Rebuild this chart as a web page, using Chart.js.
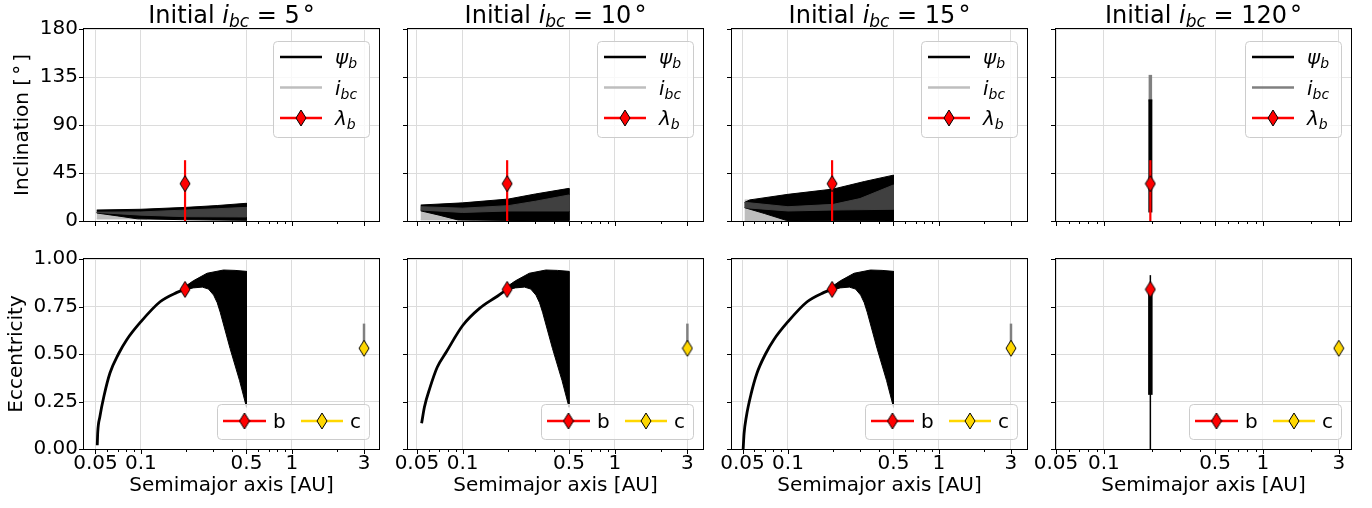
<!DOCTYPE html>
<html>
<head>
<meta charset="utf-8">
<title>Obliquity and eccentricity of planet b</title>
<script src="https://cdn.jsdelivr.net/npm/chart.js@4/dist/chart.umd.min.js"></script>
<style>
  body { margin: 0; background: #fff; }
  #figure { position: relative; width: 1372px; height: 508px; }
  #figure canvas { position: absolute; left: 0; top: 0; }
</style>
</head>
<body>
<div id="figure"></div>
<script>
// ---- data -------------------------------------------------------------
const COLUMN_IBC = [5, 10, 15, 120];
const COLUMN_XMIN = [0.042, 0.0437, 0.0426, 0.05];
const COLUMN_XMAX = [3.77, 3.8, 3.83, 3.58];

const X_MAJOR_TICKS = [0.05, 0.1, 0.5, 1, 3];
const X_MINOR_TICKS = [0.06, 0.07, 0.08, 0.09, 0.2, 0.3, 0.4, 0.6, 0.7, 0.8, 0.9, 2];
const INC_TICKS = [0, 45, 90, 135, 180];
const ECC_TICKS = [0, 0.25, 0.5, 0.75, 1];

// observed planets, [a (AU), value]
const PLANET_B_INC = [0.196, 35];
const PLANET_B_INC_BAR = [0, 57];
const PLANET_B_ECC = [0.196, 0.84];
const PLANET_C_ECC = [3, 0.53];
const PLANET_C_ECC_SPREAD = [0.53, 0.66];

// psi_b envelope (black), for i_bc = 5, 10, 15 deg
const PSI_UPPER = [
  [[0.051, 10.3], [0.1, 11], [0.2, 12.8], [0.32, 14.5], [0.5, 16.6]],
  [[0.053, 15], [0.1, 17], [0.2, 20.6], [0.3, 25.3], [0.5, 30.6]],
  [[0.0517, 17.5], [0.056, 19.8], [0.1, 25], [0.2, 30], [0.32, 37], [0.5, 43]]
];
const PSI_LOWER = [
  [[0.051, 7.5], [0.07, 4.8], [0.095, 2], [0.2, 1.2], [0.5, 0.6]],
  [[0.053, 9.5], [0.07, 5.5], [0.093, 1], [0.2, 0.5], [0.5, 0.3]],
  [[0.0517, 12.5], [0.07, 7], [0.098, 0.5], [0.2, 0.3], [0.5, 0]]
];
// overlap of psi_b and i_bc (dark grey)
const MID_UPPER = [
  [[0.051, 8.3], [0.1, 8.5], [0.2, 10.3], [0.32, 11.5], [0.5, 12.8]],
  [[0.053, 13.4], [0.1, 12], [0.2, 14.4], [0.3, 18.5], [0.5, 24.4]],
  [[0.0517, 17.5], [0.1, 13.4], [0.2, 15.6], [0.3, 21], [0.5, 33.8]]
];
const MID_LOWER = [
  [[0.051, 8], [0.1, 5.5], [0.2, 4], [0.5, 3.8]],
  [[0.053, 10.3], [0.1, 8], [0.2, 9.4], [0.5, 9.4]],
  [[0.0517, 12.5], [0.1, 9.4], [0.2, 10.3], [0.5, 11]]
];
// i_bc envelope (light grey)
const IBC_UPPER = [
  [[0.051, 8], [0.11, 4]],
  [[0.053, 12], [0.12, 5]],
  [[0.0517, 19.7], [0.057, 19.7], [0.11, 8]]
];
const IBC_LOWER = [
  [[0.051, 1.9], [0.11, 1.9]],
  [[0.053, 1], [0.12, 1]],
  [[0.0517, 0], [0.11, 0]]
];

// e_b along the high-eccentricity track
const ECC_TRACK = [
  [[0.0514, 0.02], [0.0518, 0.09], [0.0535, 0.17], [0.057, 0.28], [0.0624, 0.40], [0.071, 0.5],
   [0.0804, 0.574], [0.1, 0.67], [0.134, 0.775], [0.172, 0.823], [0.196, 0.84], [0.22, 0.855]],
  [[0.0537, 0.135], [0.056, 0.22], [0.0608, 0.32], [0.068, 0.43], [0.0782, 0.512], [0.1, 0.65],
   [0.129, 0.74], [0.166, 0.80], [0.196, 0.84], [0.22, 0.855]],
  [[0.0505, 0.0], [0.0512, 0.08], [0.053, 0.17], [0.057, 0.29], [0.0624, 0.40], [0.071, 0.5],
   [0.0804, 0.574], [0.1, 0.67], [0.134, 0.775], [0.172, 0.823], [0.196, 0.84], [0.22, 0.855]]
];
const ECC_BAND_UPPER = [[0.2, 0.86], [0.222, 0.885], [0.274, 0.925], [0.352, 0.942], [0.42, 0.94], [0.5, 0.935]];
const ECC_BAND_LOWER = [[0.2, 0.84], [0.222, 0.848], [0.255, 0.852], [0.28, 0.842], [0.303, 0.81],
  [0.32, 0.77], [0.335, 0.72], [0.389, 0.53], [0.45, 0.36], [0.5, 0.22]];

// i_bc = 120 deg: planet b stays at its current orbit
const PSI_SPAN_120 = [8, 114];
const IBC_SPAN_120 = [112, 137];
const ECC_SPAN_120 = [0, 0.915];
const ECC_CORE_120 = [0.285, 0.83];

// ---- layout -----------------------------------------------------------
const FONT = '"DejaVu Sans", sans-serif';
const PANEL_LEFT = [84, 408, 732, 1056];
const PANEL_WIDTH = 295;
const ROW_TOP = [29, 259];
const ROW_HEIGHT = [192, 190];
const Y_AXIS_W = 60;
const X_AXIS_H = 40;
const GRID = '#dcdcdc';

Chart.defaults.font.family = FONT;
Chart.defaults.font.size = 20;
Chart.defaults.color = '#000';

function makeDiamond(fill) {
  const c = document.createElement('canvas');
  c.width = 12;
  c.height = 18;
  const g = c.getContext('2d');
  g.beginPath();
  g.moveTo(6, 1);
  g.lineTo(11, 9);
  g.lineTo(6, 17);
  g.lineTo(1, 9);
  g.closePath();
  g.fillStyle = fill;
  g.fill();
  g.strokeStyle = '#000';
  g.lineWidth = 1;
  g.stroke();
  return c;
}
const RED_DIAMOND = makeDiamond('#ff0000');
const GOLD_DIAMOND = makeDiamond('#ffd700');

function pts(pairs) {
  return pairs.map(function (p) { return { x: p[0], y: p[1] }; });
}
function band(upper, lower) {
  return pts(upper.concat(lower.slice().reverse()));
}
function vline(x, span) {
  return [{ x: x, y: span[0] }, { x: x, y: span[1] }];
}

function shape(data, color, order) {
  return { data: data, fill: 'shape', backgroundColor: color, borderColor: color, borderWidth: 1, pointRadius: 0, order: order };
}
function stroke(data, color, width, order) {
  return { data: data, fill: false, borderColor: color, borderWidth: width, pointRadius: 0, order: order };
}
function marker(pair, img) {
  return { data: pts([pair]), showLine: false, pointStyle: img, pointRadius: 8, order: 0 };
}

function inclinationDatasets(col) {
  if (col === 3) {
    return [
      stroke(vline(PLANET_B_INC[0], IBC_SPAN_120), '#808080', 3.5, 6),
      stroke(vline(PLANET_B_INC[0], PSI_SPAN_120), '#000', 4, 5),
      stroke(vline(PLANET_B_INC[0], PLANET_B_INC_BAR), '#ff0000', 2.2, 1),
      marker(PLANET_B_INC, RED_DIAMOND)
    ];
  }
  return [
    shape(band(IBC_UPPER[col], IBC_LOWER[col]), '#bebebe', 6),
    shape(band(PSI_UPPER[col], PSI_LOWER[col]), '#000', 5),
    shape(band(MID_UPPER[col], MID_LOWER[col]), '#404040', 4),
    stroke(vline(PLANET_B_INC[0], PLANET_B_INC_BAR), '#ff0000', 2.2, 1),
    marker(PLANET_B_INC, RED_DIAMOND)
  ];
}

function eccentricityDatasets(col) {
  if (col === 3) {
    return [
      stroke(vline(PLANET_B_ECC[0], ECC_SPAN_120), '#000', 1.5, 5),
      stroke(vline(PLANET_B_ECC[0], ECC_CORE_120), '#000', 4.5, 4),
      marker(PLANET_B_ECC, RED_DIAMOND),
      marker(PLANET_C_ECC, GOLD_DIAMOND)
    ];
  }
  const track = stroke(pts(ECC_TRACK[col]), '#000', 2.8, 5);
  track.cubicInterpolationMode = 'monotone';
  return [
    track,
    shape(band(ECC_BAND_UPPER, ECC_BAND_LOWER), '#000', 4),
    stroke(vline(PLANET_C_ECC[0], PLANET_C_ECC_SPREAD), '#808080', 2.5, 3),
    marker(PLANET_B_ECC, RED_DIAMOND),
    marker(PLANET_C_ECC, GOLD_DIAMOND)
  ];
}

// mixed roman / italic / subscript text, drawn piece by piece
function drawRich(ctx, parts, x, y, align) {
  let total = 0;
  parts.forEach(function (p) {
    ctx.font = (p.italic ? 'italic ' : '') + p.size + 'px ' + FONT;
    p.w = ctx.measureText(p.text).width + (p.dx || 0);
    total += p.w;
  });
  let cx = align === 'center' ? x - total / 2 : x;
  ctx.textAlign = 'left';
  ctx.textBaseline = 'alphabetic';
  ctx.fillStyle = '#000';
  parts.forEach(function (p) {
    ctx.font = (p.italic ? 'italic ' : '') + p.size + 'px ' + FONT;
    ctx.fillText(p.text, cx + (p.dx || 0), y + (p.dy || 0));
    cx += p.w;
  });
}

function symbol(main, sub) {
  return [
    { text: main, size: 20, italic: true },
    { text: sub, size: 14, italic: true, dy: 4 }
  ];
}

function legendBox(ctx, x, y, w, h) {
  ctx.save();
  ctx.beginPath();
  ctx.roundRect(x + 0.5, y + 0.5, w, h, 4);
  ctx.fillStyle = 'rgba(255,255,255,0.8)';
  ctx.fill();
  ctx.strokeStyle = '#cccccc';
  ctx.lineWidth = 1;
  ctx.stroke();
  ctx.restore();
}

function handle(ctx, x0, x1, y, color, img) {
  ctx.save();
  ctx.strokeStyle = color;
  ctx.lineWidth = 2.5;
  ctx.beginPath();
  ctx.moveTo(x0, y);
  ctx.lineTo(x1, y);
  ctx.stroke();
  if (img) {
    ctx.drawImage(img, (x0 + x1) / 2 - img.width / 2, y - img.height / 2);
  }
  ctx.restore();
}

function drawInclinationLegend(ctx, area, ibcColor) {
  const left = area.right - 106;
  const top = area.top + 12;
  legendBox(ctx, left, top, 96, 96);
  const rows = [
    { color: '#000', parts: symbol('ψ', 'b') },
    { color: ibcColor, parts: symbol('i', 'bc') },
    { color: '#ff0000', parts: symbol('λ', 'b'), img: RED_DIAMOND }
  ];
  rows.forEach(function (row, i) {
    const y = top + 16 + i * 30.5;
    handle(ctx, left + 7, left + 49, y, row.color, row.img);
    drawRich(ctx, row.parts, left + 62, y + 7, 'left');
  });
}

function drawEccentricityLegend(ctx, area) {
  const left = area.right - 162;
  const top = area.bottom - 45;
  legendBox(ctx, left, top, 152, 35);
  const y = top + 17;
  handle(ctx, left + 6, left + 49, y, '#ff0000', RED_DIAMOND);
  drawRich(ctx, [{ text: 'b', size: 20 }], left + 56, y + 7, 'left');
  handle(ctx, left + 84, left + 126, y, '#ffd700', GOLD_DIAMOND);
  drawRich(ctx, [{ text: 'c', size: 20 }], left + 133, y + 7, 'left');
}

const panelDecor = {
  id: 'panelDecor',
  afterDatasetsDraw: function (chart, args, opts) {
    const ctx = chart.ctx;
    const area = chart.chartArea;
    const xs = chart.scales.x;
    const ys = chart.scales.y;

    ctx.save();
    ctx.strokeStyle = '#000';
    ctx.lineWidth = 1;
    ctx.beginPath();
    X_MAJOR_TICKS.concat(X_MINOR_TICKS).forEach(function (v) {
      if (v < xs.min || v > xs.max) return;
      const px = Math.round(xs.getPixelForValue(v)) + 0.5;
      const len = X_MAJOR_TICKS.indexOf(v) >= 0 ? 5 : 3;
      ctx.moveTo(px, area.bottom);
      ctx.lineTo(px, area.bottom + len);
    });
    opts.yTicks.forEach(function (v) {
      const py = Math.round(ys.getPixelForValue(v)) + 0.5;
      ctx.moveTo(area.left, py);
      ctx.lineTo(area.left - 5, py);
    });
    ctx.stroke();
    ctx.strokeRect(Math.round(area.left) - 0.5, Math.round(area.top) - 0.5,
      Math.round(area.right - area.left) + 1, Math.round(area.bottom - area.top) + 1);
    ctx.restore();

    if (opts.row === 0) {
      drawInclinationLegend(ctx, area, opts.col === 3 ? '#808080' : '#bebebe');
      drawRich(ctx, [
        { text: 'Initial ', size: 24 },
        { text: 'i', size: 24, italic: true },
        { text: 'bc', size: 17, italic: true, dy: 4 },
        { text: ' = ' + COLUMN_IBC[opts.col], size: 24 },
        { text: '°', size: 24, dx: 3 }
      ], (area.left + area.right) / 2, 23, 'center');
    } else {
      drawEccentricityLegend(ctx, area);
      drawRich(ctx, [{ text: 'Semimajor axis [AU]', size: 20 }], (area.left + area.right) / 2, 491, 'center');
    }

    if (opts.col === 0) {
      const label = opts.row === 0
        ? [{ text: 'Inclination [', size: 20 }, { text: '°', size: 20, dx: 3 }, { text: ']', size: 20, dx: 3 }]
        : [{ text: 'Eccentricity', size: 20 }];
      ctx.save();
      ctx.translate(opts.row === 0 ? 28 : 22, (area.top + area.bottom) / 2);
      ctx.rotate(-Math.PI / 2);
      drawRich(ctx, label, 0, 0, 'center');
      ctx.restore();
    }
  }
};

function buildPanel(row, col) {
  const canvas = document.createElement('canvas');
  canvas.width = 1372;
  canvas.height = 508;
  document.getElementById('figure').appendChild(canvas);

  const left = PANEL_LEFT[col];
  const top = ROW_TOP[row];
  const bottom = top + ROW_HEIGHT[row];
  const yTicks = row === 0 ? INC_TICKS : ECC_TICKS;
  const xMin = COLUMN_XMIN[col];
  const xMax = COLUMN_XMAX[col];

  new Chart(canvas, {
    type: 'line',
    data: { datasets: row === 0 ? inclinationDatasets(col) : eccentricityDatasets(col) },
    plugins: [panelDecor],
    options: {
      responsive: false,
      animation: false,
      devicePixelRatio: 1,
      layout: {
        padding: {
          left: left - Y_AXIS_W,
          top: top,
          right: 1372 - (left + PANEL_WIDTH),
          bottom: 508 - bottom - X_AXIS_H
        }
      },
      elements: { line: { tension: 0 } },
      plugins: {
        legend: { display: false },
        tooltip: { enabled: false },
        panelDecor: { row: row, col: col, yTicks: yTicks }
      },
      scales: {
        x: {
          type: 'logarithmic',
          min: xMin,
          max: xMax,
          bounds: 'data',
          afterBuildTicks: function (scale) {
            scale.ticks = X_MAJOR_TICKS.concat(X_MINOR_TICKS)
              .filter(function (v) { return v >= xMin && v <= xMax; })
              .sort(function (a, b) { return a - b; })
              .map(function (v) { return { value: v }; });
          },
          afterFit: function (scale) { scale.height = X_AXIS_H; },
          grid: {
            drawTicks: false,
            lineWidth: 1,
            color: function (ctx) {
              return ctx.tick && X_MAJOR_TICKS.indexOf(ctx.tick.value) >= 0 ? GRID : 'rgba(0,0,0,0)';
            }
          },
          border: { display: false },
          ticks: {
            display: row === 1,
            autoSkip: false,
            maxRotation: 0,
            padding: 3,
            font: { size: 20 },
            callback: function (v) {
              return X_MAJOR_TICKS.indexOf(v) >= 0 ? String(v) : '';
            }
          }
        },
        y: {
          type: 'linear',
          min: yTicks[0],
          max: yTicks[yTicks.length - 1],
          bounds: 'data',
          afterBuildTicks: function (scale) {
            scale.ticks = yTicks.map(function (v) { return { value: v }; });
          },
          afterFit: function (scale) { scale.width = Y_AXIS_W; },
          grid: { drawTicks: false, color: GRID, lineWidth: 1 },
          border: { display: false },
          ticks: {
            display: col === 0,
            padding: 6,
            font: { size: 20 },
            callback: function (v) {
              return row === 0 ? String(v) : v.toFixed(2);
            }
          }
        }
      }
    }
  });
}

[0, 1].forEach(function (row) {
  [0, 1, 2, 3].forEach(function (col) {
    buildPanel(row, col);
  });
});
</script>
</body>
</html>
